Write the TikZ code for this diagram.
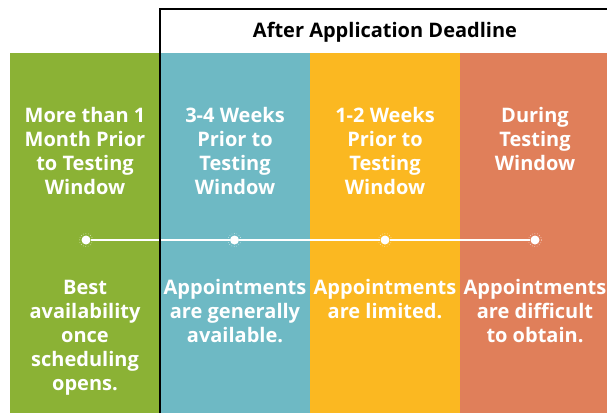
\documentclass[tikz,border=0pt]{standalone}
\usepackage{fontspec}
\setmainfont{Open Sans}
\definecolor{cgreen}{RGB}{139,178,53}
\definecolor{cteal}{RGB}{110,185,196}
\definecolor{cyellow}{RGB}{251,184,33}
\definecolor{corange}{RGB}{224,127,90}
\tikzset{
  col/.style={rectangle, draw=none, inner sep=0pt, minimum width=151bp, minimum height=360bp, anchor=north west},
  lbl/.style={inner sep=0pt, anchor=base, text=white, font=\bfseries\fontsize{20bp}{24bp}\selectfont},
  dotnode/.style={circle, fill=white, inner sep=0pt, minimum size=9bp},
  ring/.style={white, dotted, line width=0.5bp},
  tline/.style={white, line width=2.5bp},
  frame/.style={black, line width=2bp, line join=miter}
}
\newcommand{\colbox}[1]{\parbox[t]{150bp}{\centering #1}}
\begin{document}
\begin{tikzpicture}[x=1bp,y=-1bp]
\useasboundingbox (0,0) rectangle (607,413);
\fill[white] (0,0) rectangle (607,413);
% columns
\node[col, fill=cgreen, minimum width=150bp] (c1) at (10,53) {};
\node[col, fill=cteal] (c2) at (160,53) {};
\node[col, fill=cyellow] (c3) at (310,53) {};
\node[col, fill=corange, minimum width=147bp] (c4) at (460,53) {};
% header
\node[inner sep=0pt, anchor=base, font=\bfseries\fontsize{20bp}{24bp}\selectfont] (hdr) at (385,37) {After Application Deadline};
% timeline
\node[dotnode] (d1) at (86,240) {};
\node[dotnode] (d2) at (234.5,240) {};
\node[dotnode] (d3) at (385,240) {};
\node[dotnode] (d4) at (535,240) {};
\draw[tline] (d1) -- (d2) -- (d3) -- (d4);
\foreach \d in {d1,d2,d3,d4} \draw[ring] (\d) circle (6.5bp);
% frame
\draw[frame] (160,413) -- (160,9) -- (607,9);
% top labels
\node[lbl] (t1) at (85,122) {\colbox{More than 1\\Month Prior\\to Testing\\Window}};
\node[lbl] (t2) at (235,122) {\colbox{3-4 Weeks\\Prior to\\Testing\\Window}};
\node[lbl] (t3) at (385,122) {\colbox{1-2 Weeks\\Prior to\\Testing\\Window}};
\node[lbl] (t4) at (535,122) {\colbox{During\\Testing\\Window}};
% bottom labels
\node[lbl] (b1) at (85,294) {\colbox{Best\\availability\\once\\scheduling\\opens.}};
\node[lbl] (b2) at (235,294) {\colbox{Appointments\\are generally\\available.}};
\node[lbl] (b3) at (385,294) {\colbox{Appointments\\are limited.}};
\node[lbl] (b4) at (535,294) {\colbox{Appointments\\are difficult\\to obtain.}};
\end{tikzpicture}
\end{document}
